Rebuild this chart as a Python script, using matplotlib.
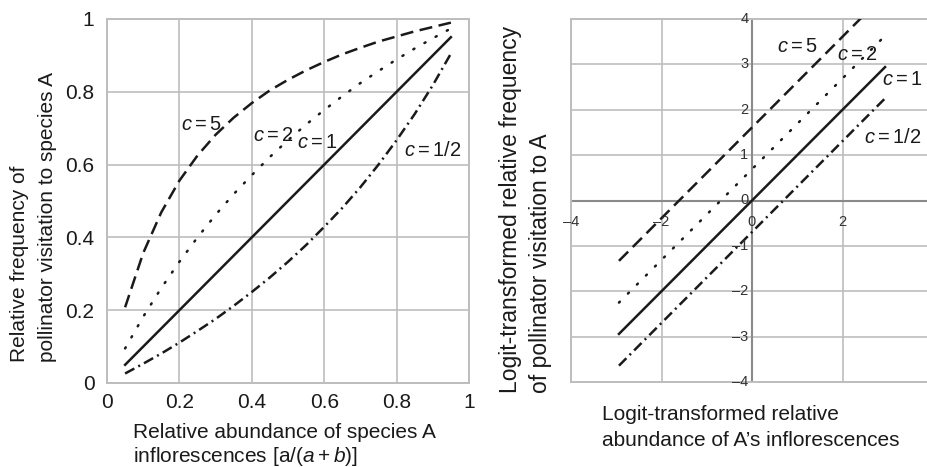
import matplotlib
matplotlib.use('Agg')
import matplotlib.pyplot as plt

plt.rcParams['font.family'] = ['Liberation Sans', 'DejaVu Sans']
plt.rcParams['mathtext.fontset'] = 'custom'
plt.rcParams['mathtext.rm'] = 'Liberation Sans'
plt.rcParams['mathtext.it'] = 'Liberation Sans:italic'

# left panel: relative abundance vs relative visitation frequency
abund = [0.05, 0.10, 0.15, 0.20, 0.25, 0.30, 0.35, 0.40, 0.45, 0.50,
         0.55, 0.60, 0.65, 0.70, 0.75, 0.80, 0.85, 0.90, 0.95]
visit_c5 = [0.208, 0.357, 0.469, 0.556, 0.625, 0.682, 0.729, 0.769, 0.804, 0.833,
            0.859, 0.882, 0.903, 0.921, 0.938, 0.952, 0.966, 0.978, 0.990]
visit_c2 = [0.095, 0.182, 0.261, 0.333, 0.400, 0.462, 0.519, 0.571, 0.621, 0.667,
            0.710, 0.750, 0.788, 0.824, 0.857, 0.889, 0.919, 0.947, 0.974]
visit_c1 = [0.05, 0.10, 0.15, 0.20, 0.25, 0.30, 0.35, 0.40, 0.45, 0.50,
            0.55, 0.60, 0.65, 0.70, 0.75, 0.80, 0.85, 0.90, 0.95]
visit_c05 = [0.026, 0.053, 0.081, 0.111, 0.143, 0.176, 0.212, 0.250, 0.290, 0.333,
             0.379, 0.429, 0.481, 0.538, 0.600, 0.667, 0.739, 0.818, 0.905]
left_ticks = [0, 0.2, 0.4, 0.6, 0.8, 1]
left_ticklabels = ['0', '0.2', '0.4', '0.6', '0.8', '1']

# right panel: logit-transformed (straight lines, endpoints)
logit_x = [-2.94, 2.94]
logit_c5 = [-1.33, 4.55]
logit_c2 = [-2.25, 3.63]
logit_c1 = [-2.94, 2.94]
logit_c05 = [-3.64, 2.25]
right_xticks = [-4, -2, 0, 2]
right_yticks = [-4, -3, -2, -1, 0, 1, 2, 3, 4]

curve_labels = ['$c = 5$', '$c = 2$', '$c = 1$', '$c = 1/2$']

ink = '#1a1a1a'
gridc = '#bdbdbd'
styles = [dict(dashes=(5.2, 2.6)),
          dict(dashes=(0.5, 4.6), dash_capstyle='round'),
          dict(),
          dict(dashes=(4.2, 1.8, 0.8, 1.8))]

fig = plt.figure(figsize=(9.27, 4.67), dpi=100)

# ---- left
ax = fig.add_axes([107/927, 1 - 383/467, 362/927, 364/467])
for ys, st in zip([visit_c5, visit_c2, visit_c1, visit_c05], styles):
    ax.plot(abund, ys, color=ink, lw=1.8, **st)
ax.set_xlim(0, 1)
ax.set_ylim(0, 1)
ax.set_xticks(left_ticks)
ax.set_xticklabels(left_ticklabels)
ax.set_yticks(left_ticks)
ax.set_yticklabels(left_ticklabels)
ax.tick_params(length=0, labelsize=15, colors=ink)
ax.tick_params(axis='y', pad=9)
ax.tick_params(axis='x', pad=7)
ax.grid(True, color=gridc, lw=1.2)
for s in ax.spines.values():
    s.set_color(gridc)
    s.set_linewidth(1.4)
ax.set_axisbelow(True)
lpos = [(0.26, 0.71), (0.46, 0.68), (0.58, 0.66), (0.90, 0.64)]
for (x, y), t in zip(lpos, curve_labels):
    ax.text(x, y, t, fontsize=14.5, color=ink, ha='center', va='center')

fig.text(20/927, 1 - 362/467, 'Relative frequency of', rotation=90,
         fontsize=15, color=ink, ha='center', va='bottom')
fig.text(48/927, 1 - 362/467, 'pollinator visitation to species A', rotation=90,
         fontsize=15, color=ink, ha='center', va='bottom')
fig.text(133/927, 1 - 432/467, 'Relative abundance of species A',
         fontsize=15, color=ink, ha='left', va='center')
fig.text(133/927, 1 - 457/467, 'inflorescences [a/($a + b$)]',
         fontsize=15, color=ink, ha='left', va='center')

# ---- right
ax2 = fig.add_axes([571/927, 1 - 382/467, 356/927, 363/467])
xmax = (927 - 752) / 45.25
ax2.set_xlim(-4, xmax)
ax2.set_ylim(-4, 4)
for v in [-2, 2]:
    ax2.axvline(v, color=gridc, lw=1.2, zorder=0)
for v in [-3, -2, -1, 1, 2, 3]:
    ax2.axhline(v, color=gridc, lw=1.2, zorder=0)
ax2.axvline(0, color='#8a8a8a', lw=1.5, zorder=1)
ax2.axhline(0, color='#8a8a8a', lw=1.5, zorder=1)
for ys, st in zip([logit_c5, logit_c2, logit_c1, logit_c05], styles):
    ax2.plot(logit_x, ys, color=ink, lw=1.8, zorder=3, **st)
ax2.set_xticks([])
ax2.set_yticks([])
for k, s in ax2.spines.items():
    s.set_color(gridc)
    s.set_linewidth(1.4)
ax2.spines['right'].set_visible(False)
for v in right_xticks:
    lab = str(v).replace('-', '\u2013')
    ax2.text(v, -0.47, lab, fontsize=10.5, color='#333333', ha='center', va='center', zorder=4)
for v in right_yticks:
    lab = str(v).replace('-', '\u2013')
    ax2.text(-0.08, v, lab, fontsize=10.5, color='#333333', ha='right', va='center', zorder=4)
rpos = [(1.0, 3.4), (2.32, 3.22), (3.33, 2.67), (3.1, 1.39)]
for (x, y), t in zip(rpos, curve_labels):
    ax2.text(x, y, t, fontsize=14.5, color=ink, ha='center', va='center', zorder=4)

fig.text(511/927, 1 - 393/467, 'Logit-transformed relative frequency', rotation=90,
         fontsize=16.5, color=ink, ha='center', va='bottom')
fig.text(540/927, 1 - 393/467, 'of pollinator visitation to A', rotation=90,
         fontsize=16.5, color=ink, ha='center', va='bottom')
fig.text(602/927, 1 - 415/467, 'Logit-transformed relative',
         fontsize=15, color=ink, ha='left', va='center')
fig.text(602/927, 1 - 440/467, 'abundance of A\u2019s inflorescences',
         fontsize=15, color=ink, ha='left', va='center')

fig.savefig('out.png', dpi=100)
